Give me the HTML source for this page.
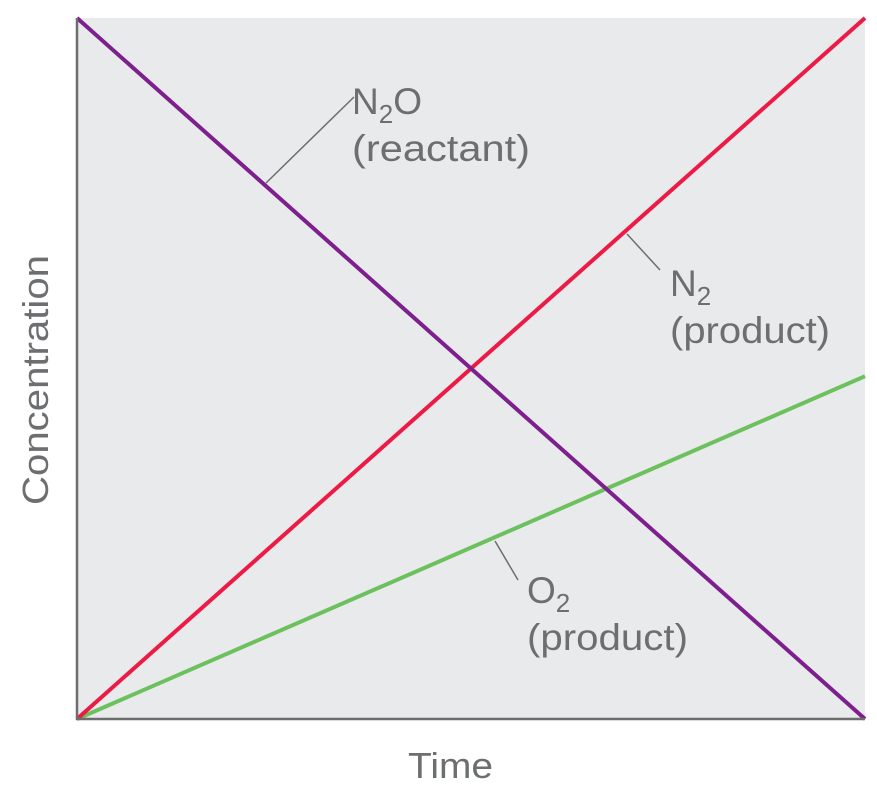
<!DOCTYPE html>
<html><head><meta charset="utf-8"><style>
body{margin:0;background:#fff;}
svg{display:block;font-family:"Liberation Sans",sans-serif;}
</style></head><body>
<svg width="877" height="789" viewBox="0 0 877 789">
<rect x="77" y="18" width="788" height="701" fill="#e9eaec"/>
<g id="series"></g>
<line x1="77" y1="18" x2="77" y2="720" stroke="#6d6d6d" stroke-width="2.5"/>
<line x1="76" y1="719" x2="865" y2="719" stroke="#6d6d6d" stroke-width="2.5"/>
<text x="408" y="778" font-size="36" fill="#6d6e70" textLength="85" lengthAdjust="spacingAndGlyphs">Time</text>
<text transform="translate(48,505) rotate(-90)" font-size="36" fill="#6d6e70" textLength="250" lengthAdjust="spacingAndGlyphs">Concentration</text>
<g fill="#6d6e70" font-size="37">
<line x1="266" y1="183" x2="354" y2="97" stroke="#6d6d6d" stroke-width="1.5"/>
<text x="352" y="114">N<tspan font-size="26" dy="9">2</tspan><tspan dy="-9">O</tspan></text>
<text x="352" y="161" textLength="178" lengthAdjust="spacingAndGlyphs">(reactant)</text>
<line x1="627" y1="234" x2="660" y2="270" stroke="#6d6d6d" stroke-width="1.5"/>
<text x="670" y="296">N<tspan font-size="26" dy="9">2</tspan></text>
<text x="670" y="343" textLength="160" lengthAdjust="spacingAndGlyphs">(product)</text>
<line x1="495" y1="541" x2="518" y2="580" stroke="#6d6d6d" stroke-width="1.5"/>
<text x="527" y="603">O<tspan font-size="26" dy="9">2</tspan></text>
<text x="527" y="650" textLength="161" lengthAdjust="spacingAndGlyphs">(product)</text>
</g>
</svg>
<script>
const times=[0,1];
const n2o=[1,0];
const n2=[0,1];
const o2=[0,0.489];
function xs(t){return 77+t*788;}
function ys(v){return 719-v*701;}
const g=document.getElementById('series');
const ns='http://www.w3.org/2000/svg';
function draw(vals,color,name){
  const p=document.createElementNS(ns,'polyline');
  p.setAttribute('points',times.map((t,i)=>xs(t)+','+ys(vals[i])).join(' '));
  p.setAttribute('fill','none');p.setAttribute('stroke',color);p.setAttribute('stroke-width','4');
  
  
  g.appendChild(p);
}
draw(o2,'#6cc15e','o2-line');
draw(n2,'#ec1a45','n2-line');
draw(n2o,'#7e1f8e','n2o-line');
</script>
</body></html>
